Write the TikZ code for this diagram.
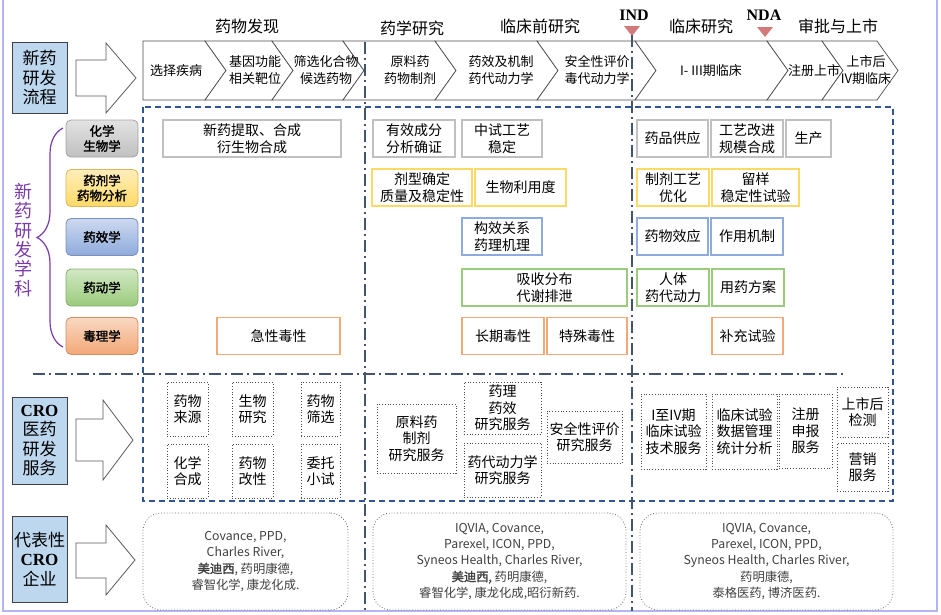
\documentclass[tikz,border=0pt]{standalone}
\usepackage{fontspec}
\setmainfont{Noto Sans CJK SC}[AutoFakeBold=2]
\newfontfamily\serifen{Liberation Serif}
\usepackage{xcolor}
\usepackage{tikz}
\usetikzlibrary{decorations.pathreplacing}
\usetikzlibrary{positioning}
\usetikzlibrary{calc}

\definecolor{frame}{RGB}{180,180,240}
\definecolor{labblue}{HTML}{BDD7EE}
\definecolor{dashblue}{HTML}{2F5597}
\definecolor{slate}{HTML}{44546A}
\definecolor{tri}{HTML}{D07A7A}
\definecolor{xkpurple}{HTML}{7A3AAA}
\definecolor{rgray}{HTML}{C0C0C0}
\definecolor{ryellow}{HTML}{FFD966}
\definecolor{rblue}{HTML}{8FAADC}
\definecolor{rgreen}{HTML}{9BCB7C}
\definecolor{rorange}{HTML}{F2A877}

\begin{document}
\begin{tikzpicture}[x=1pt,y=-1pt,
  chev/.style={draw=black!70,fill=white,line width=0.7pt},
  ctext/.style={align=center,font=\fontsize{13}{17}\selectfont},
  phase/.style={font=\fontsize{16}{18}\selectfont},
  milestone/.style={font=\serifen\bfseries\fontsize{16}{18}\selectfont},
  lab/.style={draw=black!75,fill=labblue,line width=1pt,minimum width=55pt,align=center,inner sep=0pt,font=\fontsize{17}{19.5}\selectfont},
  xk/.style={draw=#1!85!black,top color=#1!45!white,bottom color=#1,rounded corners=5pt,line width=0.8pt,minimum width=72pt,minimum height=37pt,align=center,inner sep=0pt,font=\bfseries\fontsize{12.5}{15}\selectfont},
  nr/.style={draw=#1,fill=white,line width=1.1pt,align=center,inner sep=0pt,minimum height=37pt,font=\fontsize{14}{16.5}\selectfont},
  cro/.style={draw=black!70,dotted,line width=0.8pt,fill=white,align=center,inner sep=0pt,font=\fontsize{14}{16.5}\selectfont},
  rbox/.style={draw=black!60,dotted,line width=0.8pt,rounded corners=18pt,align=center,inner sep=0pt,text=black!75,font=\fontsize{12.3}{16.3}\selectfont},
  hollow/.style={draw=black!65,fill=white,line width=0.8pt},
  dashdot/.style={draw=slate,line width=2pt,dash pattern=on 12pt off 4pt on 2pt off 4pt}]
\useasboundingbox (0,0) rectangle (941,614);

% outer frame
\draw[frame,line width=2.5pt] (3,-5) -- (3,611) -- (937,611) -- (937,-5);

% phase titles
\node[phase] (faxian) at (247,26) {药物发现};
\node[phase] (yaoxue) at (412,28) {药学研究};
\node[phase] (linchuangqian) at (540,26) {临床前研究};
\node[phase] (linchuang) at (701,26) {临床研究};
\node[phase] (shenpi) at (838,26) {审批与上市};
\node[milestone] (ind) at (634,15) {IND};
\node[milestone] (nda) at (764,15) {NDA};
\fill[tri] (624,26) -- (640,26) -- (632,36) -- cycle;
\fill[tri] (757,27) -- (773,27) -- (765,37) -- cycle;

% process chevrons
\draw[chev] (143,41) -- (205,41) -- (226,70.5) -- (205,100) -- (143,100) -- cycle;
\foreach \a/\b in {205/272,272/343,343/435,435/537,537/635,635/767,767/822,822/877}
  \draw[chev] (\a,41) -- (\b,41) -- (\b+21,70.5) -- (\b,100) -- (\a,100) -- (\a+21,70.5) -- cycle;
\node[ctext] (c1) at (176,70.5) {选择疾病};
\node[ctext] (c2) at (255,70.5) {基因功能\\相关靶位};
\node[ctext] (c3) at (326,70.5) {筛选化合物\\候选药物};
\node[ctext] (c4) at (410,70.5) {原料药\\药物制剂};
\node[ctext] (c5) at (501,70.5) {药效及机制\\药代动力学};
\node[ctext] (c6) at (597,70.5) {安全性评价\\毒代动力学};
\node[ctext] (c7) at (711,70.5) {I- III期临床};
\node[ctext] (c8) at (814,70.5) {注册上市};
\node[ctext] (c9) at (866,70.5) {上市后\\IV期临床};

% left labels and arrows
\node[lab,minimum height=71pt] (liucheng) at (39.5,77.5) {新药\\研发\\流程};
\node[lab,minimum height=87pt] (fuwu) at (39.5,440.5) {{\serifen\bfseries CRO}\\医药\\研发\\服务};
\node[lab,minimum height=86pt] (qiye) at (39.5,559) {代表性\\{\serifen\bfseries CRO}\\企业};
\draw[hollow] (76,60) -- (106,60) -- (106,43) -- (136,78) -- (106,113) -- (106,96) -- (76,96) -- cycle;
\draw[hollow] (76,419) -- (103,419) -- (103,400) -- (133,440) -- (103,480) -- (103,461) -- (76,461) -- cycle;
\draw[hollow] (76,543) -- (106,543) -- (106,525) -- (135,560) -- (106,595) -- (106,578) -- (76,578) -- cycle;

% disciplines
\draw[xkpurple,line width=1.2pt,decorate,decoration={brace,amplitude=26pt}] (63,347) -- (63,128);
\node[text=xkpurple,align=center,font=\fontsize{18}{19.3}\selectfont] (xueke) at (23,240) {新\\药\\研\\发\\学\\科};
\node[xk=rgray] (huaxue) at (102,138.5) {化学\\生物学};
\node[xk=ryellow] (yaoji) at (102,188) {药剂学\\药物分析};
\node[xk=rblue] (yaoxiao) at (102,237) {药效学};
\node[xk=rgreen] (yaodong) at (102,287.5) {药动学};
\node[xk=rorange] (duli) at (102,336) {毒理学};

% dashed frame and separators
\draw[dashblue,dashed,line width=1.5pt,dash pattern=on 6pt off 4pt] (143,107) rectangle (893,501);

% chemistry row
\node[nr=rgray,minimum width=178pt] (tiqu) at (252,138.5) {新药提取、合成\\衍生物合成};
\node[nr=rgray,minimum width=82pt] (queren) at (414,138.5) {有效成分\\分析确证};
\node[nr=rgray,minimum width=80pt] (zhongshi) at (502,138.5) {中试工艺\\稳定};
\node[nr=rgray,minimum width=71pt] (gongying) at (672.5,138.5) {药品供应};
\node[nr=rgray,minimum width=72pt] (gaijin) at (747,138.5) {工艺改进\\规模合成};
\node[nr=rgray,minimum width=45pt] (shengchan) at (808.5,138.5) {生产};
% pharmaceutics row
\node[nr=ryellow,minimum width=100pt] (jixing) at (422,187.5) {剂型确定\\质量及稳定性};
\node[nr=ryellow,minimum width=91pt] (liyong) at (520.5,187.5) {生物利用度};
\node[nr=ryellow,minimum width=72pt] (zhiji) at (673,187.5) {制剂工艺\\优化};
\node[nr=ryellow,minimum width=87pt] (liuyang) at (755.5,187.5) {留样\\稳定性试验};
% pharmacodynamics row
\node[nr=rblue,minimum width=80pt] (gouxiao) at (502,236.5) {构效关系\\药理机理};
\node[nr=rblue,minimum width=71pt] (xiaoying) at (672.5,236.5) {药物效应};
\node[nr=rblue,minimum width=72pt] (jizhi) at (747,236.5) {作用机制};
% pharmacokinetics row
\node[nr=rgreen,minimum width=165pt] (xishou) at (544.5,287.5) {吸收分布\\代谢排泄};
\node[nr=rgreen,minimum width=72pt] (renti) at (673,287.5) {人体\\药代动力};
\node[nr=rgreen,minimum width=72pt] (yongyao) at (748,287.5) {用药方案};
% toxicology row
\node[nr=rorange,minimum width=123pt] (jixingdu) at (278.5,336) {急性毒性};
\node[nr=rorange,minimum width=82pt] (changqi) at (503,336) {长期毒性};
\node[nr=rorange,minimum width=80pt] (teshu) at (587,336) {特殊毒性};
\node[nr=rorange,minimum width=71pt] (buchong) at (747.5,336) {补充试验};

% CRO services
\node[cro,minimum width=41pt,minimum height=54pt] (laiyuan) at (187.5,409) {药物\\来源};
\node[cro,minimum width=41pt,minimum height=54pt] (yanjiu) at (252.5,409) {生物\\研究};
\node[cro,minimum width=39pt,minimum height=54pt] (shaixuan) at (320.5,409) {药物\\筛选};
\node[cro,minimum width=41pt,minimum height=54pt] (hecheng) at (187.5,471) {化学\\合成};
\node[cro,minimum width=41pt,minimum height=54pt] (gaixing) at (252.5,471) {药物\\改性};
\node[cro,minimum width=39pt,minimum height=54pt] (xiaoshi) at (320.5,471) {委托\\小试};
\node[cro,minimum width=79pt,minimum height=69pt] (yuanliao) at (416.5,438.5) {原料药\\制剂\\研究服务};
\node[cro,minimum width=77pt,minimum height=52pt] (yaoli) at (502.5,408) {药理\\药效\\研究服务};
\node[cro,minimum width=77pt,minimum height=54pt] (yaodai) at (502.5,470) {药代动力学\\研究服务};
\node[cro,minimum width=75pt,minimum height=52pt] (anquan) at (584.5,437) {安全性评价\\研究服务};
\node[cro,minimum width=65pt,minimum height=75pt] (jishu) at (673.5,431.5) {I至IV期\\临床试验\\技术服务};
\node[cro,minimum width=65pt,minimum height=75pt] (shuju) at (744.5,431.5) {临床试验\\数据管理\\统计分析};
\node[cro,minimum width=53pt,minimum height=74pt] (zhuce) at (805.5,431) {注册\\申报\\服务};
\node[cro,minimum width=51pt,minimum height=50pt] (jiance) at (862.5,412) {上市后\\检测};
\node[cro,minimum width=51pt,minimum height=48pt] (yingxiao) at (862.5,467) {营销\\服务};

% representative companies
\node[rbox,minimum width=205pt,minimum height=97pt] (qiye1) at (245.5,561.5) {Covance, PPD,\\Charles River,\\{\bfseries 美迪西}, 药明康德,\\睿智化学, 康龙化成.};
\node[rbox,minimum width=253pt,minimum height=97pt] (qiye2) at (499.5,561.5) {IQVIA, Covance,\\Parexel, ICON, PPD,\\Syneos Health, Charles River,\\{\bfseries 美迪西,} 药明康德,\\睿智化学, 康龙化成,昭衍新药.};
\node[rbox,minimum width=253pt,minimum height=97pt] (qiye3) at (766.5,561.5) {IQVIA, Covance,\\Parexel, ICON, PPD,\\Syneos Health, Charles River,\\药明康德,\\泰格医药, 博济医药.};

% phase separators
\draw[dashdot] (33,374) -- (845,374);
\draw[dashdot] (365,42) -- (365,611);
\draw[dashdot] (632,35) -- (632,611);
\end{tikzpicture}
\end{document}
